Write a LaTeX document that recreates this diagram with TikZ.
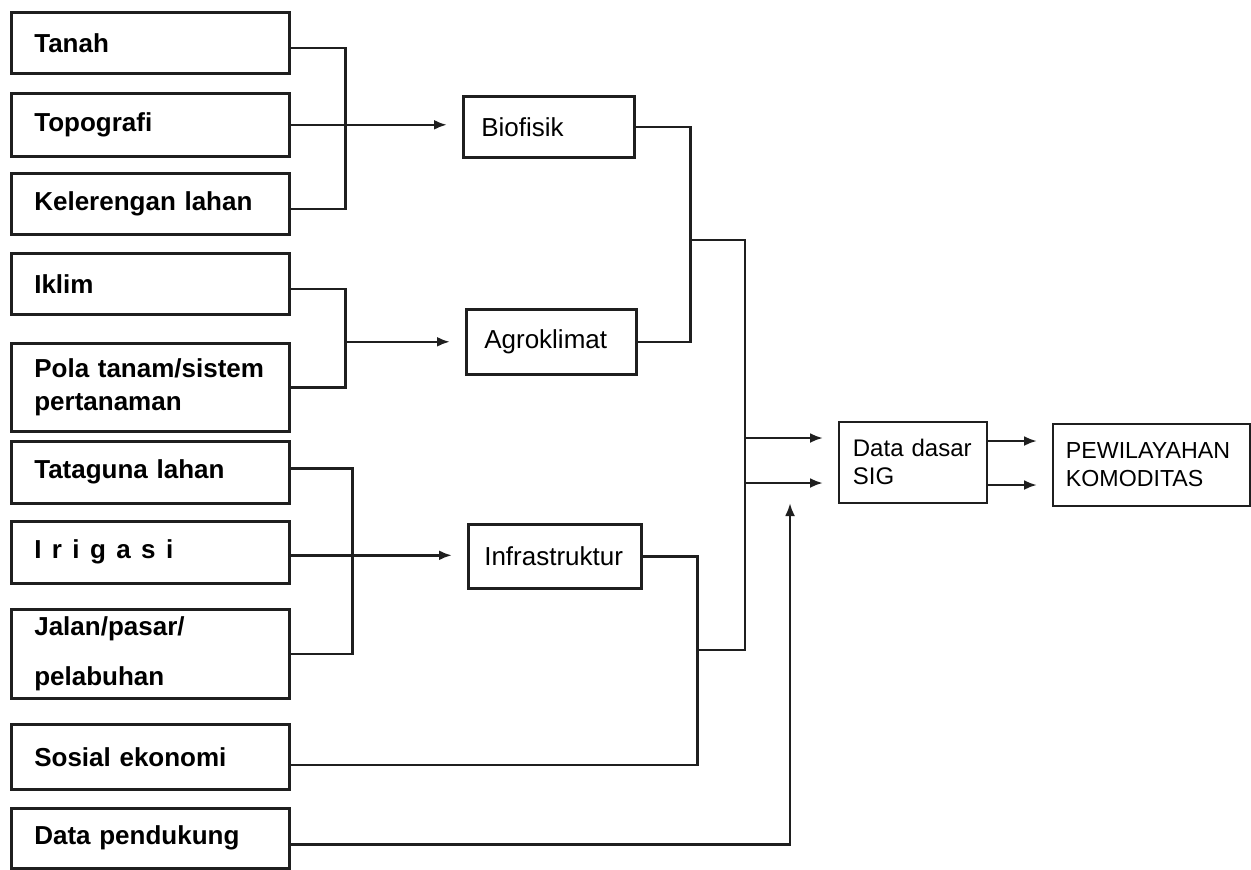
\documentclass[tikz,border=0pt]{standalone}
\usepackage{fontspec}
\setmainfont{Liberation Sans}
\usetikzlibrary{arrows.meta,calc}
\tikzset{
  box/.style={draw=black!88, line width=1.3pt, anchor=north west, inner ysep=0pt},
  lbox/.style={box, inner xsep=11.5pt, text width=116pt, minimum width=139pt, align=left,
    font=\fontsize{13}{15.6}\selectfont\bfseries},
  mbox/.style={box, inner xsep=9pt, align=left, font=\fontsize{13}{15.6}\selectfont},
  rbox/.style={box, line width=0.9pt, inner xsep=7pt, align=left, font=\fontsize{12}{14}\selectfont},
  conn/.style={draw=black!88, line width=1.3pt},
  arr/.style={conn, -{Latex[length=6.5pt,width=5pt]}, shorten >=7.5pt},
}
\begin{document}
\begin{tikzpicture}[x=0.5pt,y=-0.5pt]
\useasboundingbox (0,0) rectangle (1251,869);

% left input boxes
\node[lbox, minimum height=30.5pt] (tanah) at (10,11) {Tanah};
\node[lbox, minimum height=31.5pt] (topo) at (10,92) {Topografi};
\node[lbox, minimum height=30.5pt] (kel) at (10,172) {Kelerengan lahan};
\node[lbox, minimum height=30.5pt] (iklim) at (10,252) {Iklim};
\node[lbox, minimum height=44pt] (pola) at (10,342) {Pola tanam/sistem\\[1pt]pertanaman};
\node[lbox, minimum height=31pt] (tata) at (10,440) {Tataguna lahan};
\node[lbox, minimum height=31pt] (iri) at (10,520) {{\addfontfeature{LetterSpace=40}Irigasi}};
\node[lbox, minimum height=44.5pt] (jalan) at (10,608) {Jalan/pasar/\\[9pt]pelabuhan};
\node[lbox, minimum height=32.5pt] (sosial) at (10,723) {Sosial ekonomi};
\node[lbox, minimum height=30pt] (datap) at (10,807) {Data pendukung};

% middle boxes
\node[mbox, text width=67.5pt, minimum height=30.5pt] (bio) at (462,95) {Biofisik};
\node[mbox, text width=67pt, minimum height=32.5pt] (agro) at (465,308) {Agroklimat};
\node[mbox, inner xsep=8pt, text width=70.5pt, minimum height=32pt] (infra) at (467,523) {Infrastruktur};

% right boxes
\node[rbox, text width=60pt, minimum height=40.5pt] (dd) at (838,421) {Data dasar\\SIG};
\node[rbox, inner xsep=6.5pt, text width=85.5pt, minimum height=41pt, font=\fontsize{11.6}{14}\selectfont] (pw) at (1052,423) {PEWILAYAHAN\\KOMODITAS};

% group 1 -> Biofisik
\draw[conn] ([yshift=-2.5pt]tanah.east) -- ++(55,0) |- ([yshift=-2.5pt]kel.east);
\draw[arr] (topo.east) -- (topo.east -| bio.west);

% group 2 -> Agroklimat
\draw[conn] ([yshift=-2.5pt]iklim.east) -- ++(55,0) coordinate (j2) |- (pola.east);
\draw[arr] (j2 |- agro.west) -- (agro.west);

% group 3 -> Infrastruktur
\draw[conn] ([yshift=2pt]tata.east) -- ++(62,0) |- (jalan.east);
\draw[arr] ([yshift=-1.5pt]iri.east) -- ([yshift=-1.5pt]iri.east -| infra.west);

% merging to Data dasar SIG
\draw[conn] (bio.east) -- ++(55,0) coordinate (r1) |- (agro.east);
\draw[conn] (infra.east) -- ++(55,0) coordinate (r2) |- ([yshift=-4pt]sosial.east);
\coordinate (jb) at (r1 |- 0,240);
\coordinate (bt) at (745,240);
\coordinate (bb) at (745,650);
\coordinate (ji) at (r2 |- bb);
\draw[conn, line join=miter] (jb) -- (bt) -- (bb) -- (ji);

\coordinate (b1) at (745,438);
\coordinate (b2) at (745,483);
\draw[arr] (b1) -- (b1 -| dd.west);
\draw[arr] (b2) -- (b2 -| dd.west);

\coordinate (up) at (790,503);
\draw[arr, shorten >=0pt] ([yshift=-3pt]datap.east) -| (up);

% Data dasar -> Pewilayahan
\coordinate (c1) at (dd.east |- 0,441);
\coordinate (c2) at (dd.east |- 0,485);
\draw[arr] (c1) -- (c1 -| pw.west);
\draw[arr] (c2) -- (c2 -| pw.west);
\end{tikzpicture}
\end{document}
